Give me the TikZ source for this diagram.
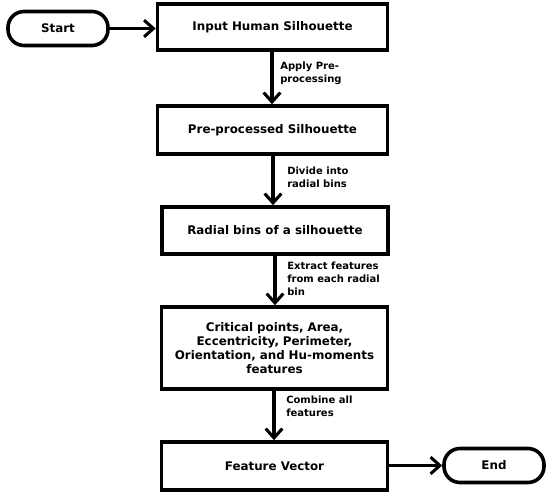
\documentclass[tikz,border=0pt]{standalone}
\usepackage{fontspec}
\setmainfont{DejaVu Sans}
\usetikzlibrary{arrows.meta}
\begin{document}
\begin{tikzpicture}[x=0.75pt,y=-0.75pt,
  box/.style={draw,line width=2.7pt,minimum height=#1*0.75pt,align=center,font=\bfseries\fontsize{8.9}{10.7}\selectfont,inner sep=2pt},
  pill/.style={draw,line width=2.7pt,rounded corners=12pt,minimum width=100*0.75pt,minimum height=34*0.75pt,font=\bfseries\fontsize{8.9}{10}\selectfont},
  flow/.style={line width=2.7pt,-{Straight Barb[length=7pt,width=12.5pt,line width=2.3pt]}},
  lab/.style={anchor=north west,align=left,font=\bfseries\fontsize{7.5}{9.7}\selectfont,inner sep=0pt}]
\useasboundingbox (0,0) rectangle (550,496);
\node[pill] (start) at (58,28.5) {Start};
\node[box=46,minimum width=230*0.75pt] (b1) at (272.5,27) {Input Human Silhouette};
\node[box=48,minimum width=230*0.75pt] (b2) at (272.5,130) {Pre-processed Silhouette};
\node[box=47,minimum width=226*0.75pt] (b3) at (275,230.5) {Radial bins of a silhouette};
\node[box=82,minimum width=226*0.75pt,text width=220*0.75pt] (b4) at (274.5,348) {Critical points, Area,\\Eccentricity, Perimeter,\\Orientation, and Hu-moments\\features};
\node[box=48,minimum width=226*0.75pt] (b5) at (274.5,466) {Feature Vector};
\node[pill] (end) at (494,465.5) {End};
\draw[flow] (start) -- (b1.west|-start);
\draw[flow] (b1.south-|272,0) -- (b2.north-|272,0);
\draw[flow] (b2.south-|273,0) -- (b3.north-|273,0);
\draw[flow] (b3.south-|275,0) -- (b4.north-|275,0);
\draw[flow] (b4.south-|274,0) -- (b5.north-|274,0);
\draw[flow] (b5.east|-end) -- (end);
\node[lab] (l1) at (280,62) {Apply Pre-\\processing};
\node[lab] (l2) at (287,167) {Divide into\\radial bins};
\node[lab] (l3) at (287,262) {Extract features\\from each radial\\bin};
\node[lab] (l4) at (286,396) {Combine all\\features};
\end{tikzpicture}
\end{document}
